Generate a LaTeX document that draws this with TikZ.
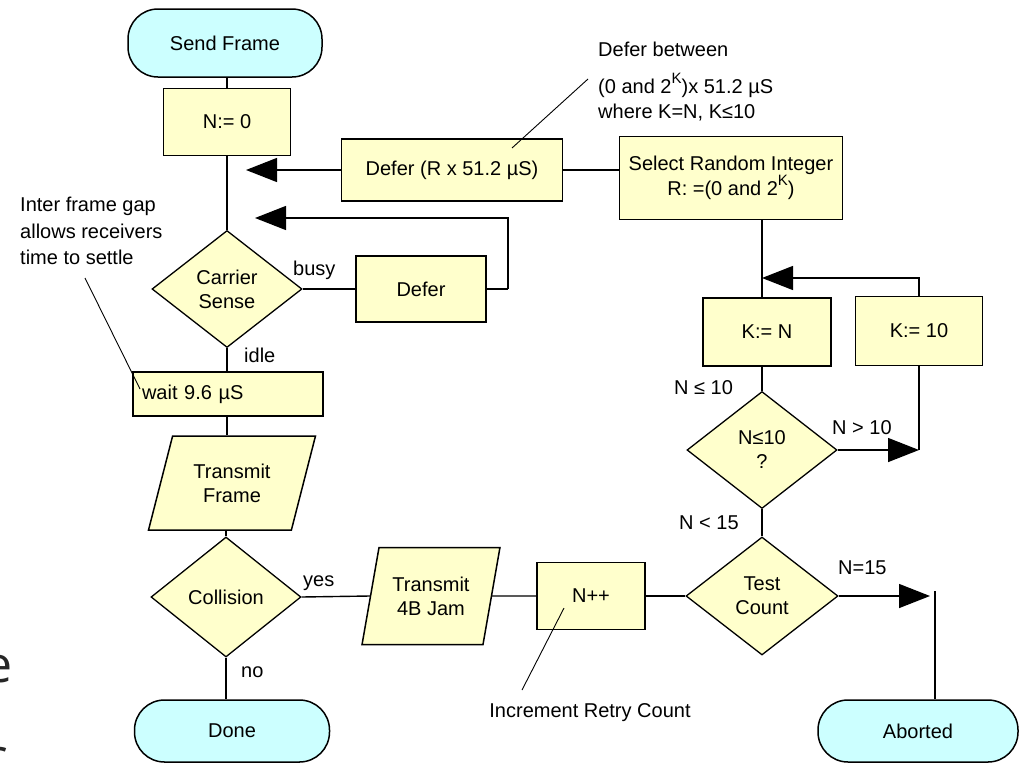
\documentclass[tikz,border=0pt]{standalone}
\usepackage{fontspec}
\setmainfont{Liberation Sans}
\newfontfamily\slidefont{Open Sans}
\usetikzlibrary{arrows.meta,shapes.geometric}
\definecolor{boxyellow}{HTML}{FFFFCC}
\definecolor{termcyan}{HTML}{CCFFFF}
\newcommand\mysupK{\raisebox{0.5em}{\fontsize{15}{15}\selectfont K}}
\begin{document}
\begin{tikzpicture}[x=1pt,y=-1pt,
  every node/.style={font=\fontsize{20}{24}\selectfont},
  procbox/.style={draw, fill=boxyellow, line width=1.5pt, inner sep=0pt, align=center},
  termbox/.style={draw, fill=termcyan, line width=1.5pt, inner sep=0pt, rounded corners=30pt, align=center},
  decbox/.style={draw, fill=boxyellow, line width=1.3pt, shape=diamond, inner sep=0pt, align=center},
  iobox/.style={draw, fill=boxyellow, line width=1.5pt, shape=trapezium, trapezium stretches=true, inner sep=0pt, align=center},
  conn/.style={line width=1.4pt},
  arr/.style={line width=1.4pt, -{Triangle[length=31pt,width=24pt]}},
  lead/.style={line width=0.9pt},
  lbl/.style={inner sep=0pt}]
\useasboundingbox (0,0) rectangle (1030,763);
\clip (0,0) rectangle (1030,763);
\fill[white] (0,0) rectangle (1030,763);

% left spine
\node[termbox, minimum width=194, minimum height=68] (send) at (225,43) {Send Frame};
\node[procbox, minimum width=127, minimum height=67] (n0) at (227,122) {N:= 0};
\node[decbox, minimum width=150, minimum height=117] (carrier) at (227,289) {Carrier\\Sense};
\node[procbox, minimum width=190, minimum height=44, text width=172, align=left] (wait) at (228,394) {wait 9.6 µS};
\node[iobox, trapezium left angle=68, trapezium right angle=112, minimum width=167, minimum height=94] (tframe) at (232,483) {Transmit\\Frame};
\node[decbox, minimum width=150, minimum height=120] (coll) at (226,597) {Collision};
\node[termbox, minimum width=195, minimum height=62] (done) at (232,731) {Done};

% top row
\node[procbox, minimum width=221, minimum height=62] (deferR) at (452,170) {Defer (R x 51.2 µS)};
\node[procbox, minimum width=223, minimum height=83] (select) at (731,178) {Select Random Integer\\R: =(0 and 2\mysupK)};
\node[procbox, minimum width=130, minimum height=66] (defer) at (421,289) {Defer};

% right column
\node[procbox, minimum width=128, minimum height=68] (kn) at (767,332) {K:= N};
\node[procbox, minimum width=127, minimum height=69] (k10) at (919,331) {K:= 10};
\node[decbox, minimum width=150, minimum height=117] (nle) at (762,450) {N≤10\\?};
\node[decbox, minimum width=152, minimum height=118] (test) at (762,596) {Test\\Count};
\node[termbox, minimum width=200, minimum height=62] (abort) at (918,731) {Aborted};

% bottom row
\node[iobox, trapezium left angle=72, trapezium right angle=108, minimum width=138, minimum height=97] (jam) at (431,596) {Transmit\\4B Jam};
\node[procbox, minimum width=108, minimum height=67] (npp) at (591,596) {N++};

% free ends
\coordinate (a1) at (246,170);
\coordinate (a2) at (255,218);
\coordinate (b2) at (508,289);
\coordinate (a3) at (762,278);
\coordinate (a4) at (919,450);
\coordinate (a5) at (930,596);
\coordinate (a6) at (935,591);

% spine connectors
\draw[conn] (send.south -| n0) -- (n0.north);
\draw[conn] (n0.south) -- (carrier.north);
\draw[conn] (carrier.south) -- (wait.north -| carrier.south);
\draw[conn] (wait.south -| carrier.south) -- (tframe.north -| carrier.south);
\draw[conn] (tframe.south -| coll.north) -- (coll.north);
\draw[conn] (coll.south) -- (done.north -| coll.south);

% top connectors
\draw[arr] (deferR.west) -- (a1);
\draw[conn] (deferR.east) -- (select.west |- deferR.east);
\draw[conn] (carrier.east) -- (defer.west);
\draw[conn] (defer.east) -- (b2);
\draw[arr] (b2) |- (a2);

% right connectors
\draw[conn] (select.south -| a3) -- (kn.north -| a3);
\draw[arr] (k10.north) |- (a3);
\draw[conn] (kn.south -| nle.north) -- (nle.north);
\draw[conn] (k10.south) -- (a4);
\draw[arr] (nle.east) -- (a4);
\draw[conn] (nle.south) -- (test.north);
\draw[arr] (test.east) -- (a5);
\draw[conn] (a6) -- (abort.north -| a6);

% bottom connectors
\draw[conn] (coll.east) -- (jam.west);
\draw[conn] (jam.east) -- (npp.west);
\draw[conn] (npp.east) -- (test.west);

% labels
\node[lbl, anchor=base west] (lbusy) at (293,275) {busy};
\node[lbl, anchor=base west] (lidle) at (244,362) {idle};
\node[lbl, anchor=base west] (lyes) at (303,586) {yes};
\node[lbl, anchor=base west] (lno) at (241,677) {no};
\node[lbl, anchor=base west] (lnle) at (674,394) {N ≤ 10};
\node[lbl, anchor=base west] (lngt) at (832,434) {N > 10};
\node[lbl, anchor=base west] (lnlt) at (679,529) {N < 15};
\node[lbl, anchor=base west] (lneq) at (838,574) {N=15};

% annotations
\node[lbl, anchor=north west, align=left, font=\fontsize{20}{25}\selectfont] (note1) at (598,42)
  {Defer between\\[12pt](0 and 2\mysupK)x 51.2 µS\\where K=N, K≤10};
\draw[lead] (588,79) -- (512,148);
\node[lbl, anchor=north west, align=left, font=\fontsize{20}{26.5}\selectfont] (note2) at (20,197)
  {Inter frame gap\\allows receivers\\time to settle};
\draw[lead] (85,278) -- (140,389);
\node[lbl, anchor=base] (note3) at (590,717) {Increment Retry Count};
\draw[lead] (564,608) -- (522,690);

% cropped slide text at the left edge
\node[lbl, anchor=base, font=\slidefont\fontsize{50}{50}\selectfont, text=black!85] (frag1) at (-1,682) {e};
\node[lbl, anchor=base, font=\slidefont\fontsize{50}{50}\selectfont, text=black!85] (frag2) at (-4,774) {c};
\end{tikzpicture}
\end{document}
